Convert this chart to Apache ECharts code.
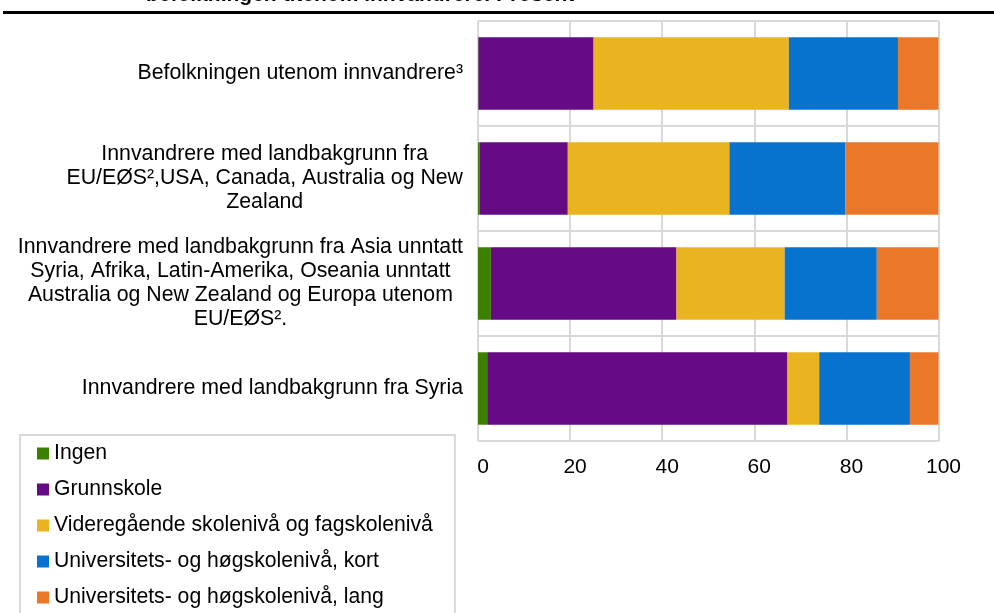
<!DOCTYPE html>
<html>
<head>
<meta charset="utf-8">
<script src="https://cdn.jsdelivr.net/npm/echarts@6/dist/echarts.min.js"></script>
<style>
  html, body { margin: 0; padding: 0; background: #fff; }
  #chart { width: 994px; height: 613px; }
</style>
</head>
<body>
<div id="chart"></div>
<script>
const FONT = '"Liberation Sans", Arial, sans-serif';

// groups, top to bottom
const groups = [
  "Befolkningen utenom innvandrere³",
  "Innvandrere med landbakgrunn fra\nEU/EØS²,USA, Canada, Australia og New\nZealand",
  "Innvandrere med landbakgrunn fra Asia unntatt\nSyria, Afrika, Latin-Amerika, Oseania unntatt\nAustralia og New Zealand og Europa utenom\nEU/EØS².",
  "Innvandrere med landbakgrunn fra Syria"
];

const levels = [
  "Ingen",
  "Grunnskole",
  "Videregående skolenivå og fagskolenivå",
  "Universitets- og høgskolenivå, kort",
  "Universitets- og høgskolenivå, lang"
];

// percent per level, same order as groups
const ingen = [0.1, 0.4, 2.8, 2.0];
const grunnskole = [25.0, 19.1, 40.3, 65.2];
const videregaende = [42.4, 35.1, 23.5, 6.9];
const uniKort = [23.7, 25.2, 20.0, 19.7];
const uniLang = [8.8, 20.2, 13.4, 6.2];

const values = [ingen, grunnskole, videregaende, uniKort, uniLang];
const colors = ["#3c8000", "#660a85", "#eab320", "#0873ce", "#ea7828"];

const gridLine = { color: "#d9d9d9", width: 2 };

const chart = echarts.init(document.getElementById("chart"));

chart.setOption({
  animation: false,
  title: {
    text: "befolkningen utenom innvandrere. Prosent",
    left: 146,
    top: -15,
    padding: 0,
    textStyle: { fontFamily: FONT, fontSize: 21, fontWeight: "bold", color: "#000" }
  },
  graphic: [
    {
      type: "line",
      shape: { x1: 3, y1: 12.5, x2: 994, y2: 12.5 },
      style: { stroke: "#000", lineWidth: 3 }
    }
  ],
  legend: {
    orient: "vertical",
    left: 20,
    top: 435,
    height: 200,
    padding: [8, 22, 20, 17],
    itemWidth: 12,
    itemHeight: 12,
    itemGap: 15,
    icon: "rect",
    borderColor: "#d9d9d9",
    borderWidth: 2,
    textStyle: { fontFamily: FONT, fontSize: 21.2, lineHeight: 21, color: "#000" },
    data: levels
  },
  grid: { left: 478, right: 55.5, top: 21, bottom: 172 },
  xAxis: {
    type: "value",
    min: 0,
    max: 100,
    interval: 20,
    axisLine: { show: false },
    axisTick: { show: false },
    splitLine: { show: true, lineStyle: gridLine },
    axisLabel: {
      fontFamily: FONT,
      fontSize: 21,
      color: "#000",
      margin: 16,
      padding: [0, 0, 0, 10]
    }
  },
  yAxis: {
    type: "category",
    inverse: true,
    data: groups,
    axisLine: { show: false },
    axisTick: { show: false },
    splitLine: { show: true, lineStyle: gridLine },
    axisLabel: {
      margin: 15,
      align: "right",
      formatter: (v) => v.split("\n").map((s) => "{c|" + s + "}").join("\n"),
      rich: {
        c: { align: "center", fontFamily: FONT, fontSize: 21.3, lineHeight: 24, color: "#000" }
      }
    }
  },
  series: levels.map((name, i) => ({
    name,
    type: "bar",
    stack: "total",
    barCategoryGap: "31%",
    itemStyle: { color: colors[i] },
    data: values[i]
  }))
});
</script>
</body>
</html>
